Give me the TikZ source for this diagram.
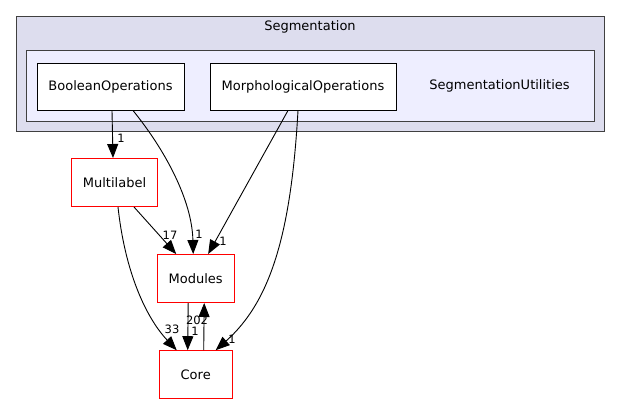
\documentclass[tikz,border=0pt]{standalone}
\usepackage{fontspec}
\setmainfont{DejaVu Sans}
\usetikzlibrary{arrows.meta,calc}
\definecolor{outerfill}{HTML}{DDDDEE}
\definecolor{innerfill}{HTML}{EEEEFF}
\definecolor{clusterline}{HTML}{404040}
\tikzset{
  cluster/.style={draw=clusterline, line width=1pt, inner sep=0pt, anchor=north west},
  dirbox/.style={draw=black, fill=white, line width=1pt, minimum height=47pt, inner sep=0pt, font=\fontsize{13}{15}\selectfont},
  extbox/.style={draw=red, fill=white, line width=1pt, minimum height=48pt, inner sep=0pt, font=\fontsize{13}{15}\selectfont},
  dep/.style={draw=black, line width=0.9pt, -{Triangle[length=14pt,width=11pt]}},
  cnt/.style={font=\fontsize{11.5}{13}\selectfont, inner sep=0pt},
}
\begin{document}
\begin{tikzpicture}[x=1pt,y=-1pt]
\useasboundingbox (0,0) rectangle (620,404);
% clusters
\node[cluster, fill=outerfill, minimum width=588pt, minimum height=115pt] (segcl) at (16,16) {};
\node[font=\fontsize{13}{15}\selectfont] (seglbl) at (310,27) {Segmentation};
\node[cluster, fill=innerfill, minimum width=568pt, minimum height=71pt] (utilcl) at (26,50) {};
\node[font=\fontsize{13}{15}\selectfont] (utillbl) at (499.5,86) {SegmentationUtilities};
% nodes
\node[dirbox, minimum width=147pt] (bool) at (110.5,86.5) {BooleanOperations};
\node[dirbox, minimum width=186pt] (morph) at (303,86.5) {MorphologicalOperations};
\node[extbox, minimum width=86pt] (multi) at (114.5,182.5) {Multilabel};
\node[extbox, minimum width=77pt] (mods) at (195.7,278.5) {Modules};
\node[extbox, minimum width=73pt] (core) at (195.7,374.7) {Core};
% edges
\draw[dep] ([xshift=1.5pt]bool.south) -- ([xshift=-1.5pt]multi.north);
\draw[dep] ([xshift=22.5pt]bool.south) .. controls (165,150) and (192,200) .. ([xshift=-2.5pt]mods.north);
\draw[dep] ([xshift=-15pt]morph.south) -- ([xshift=12.5pt]mods.north);
\draw[dep] ([xshift=-5pt]morph.south) .. controls (291,235) and (270,302) .. ([xshift=20pt]core.north);
\draw[dep] ([xshift=19.5pt]multi.south) -- ([xshift=-19.5pt]mods.north);
\draw[dep] ([xshift=3.5pt]multi.south) .. controls (126,280) and (150,322) .. ([xshift=-19pt]core.north);
\draw[dep] ([xshift=-7.5pt]mods.south) -- ([xshift=-8pt]core.north);
\draw[dep] ([xshift=8pt]core.north) -- ([xshift=8.5pt]mods.south);
% counts
\node[cnt] (c1) at (121,138) {1};
\node[cnt] (c2) at (199,234) {1};
\node[cnt] (c3) at (223,241) {1};
\node[cnt] (c4) at (232,339) {1};
\node[cnt] (c5) at (170,235) {17};
\node[cnt] (c6) at (172,329) {33};
\node[cnt] (c7) at (197,320) {202};
\node[cnt] (c8) at (195,331) {1};
\end{tikzpicture}
\end{document}
